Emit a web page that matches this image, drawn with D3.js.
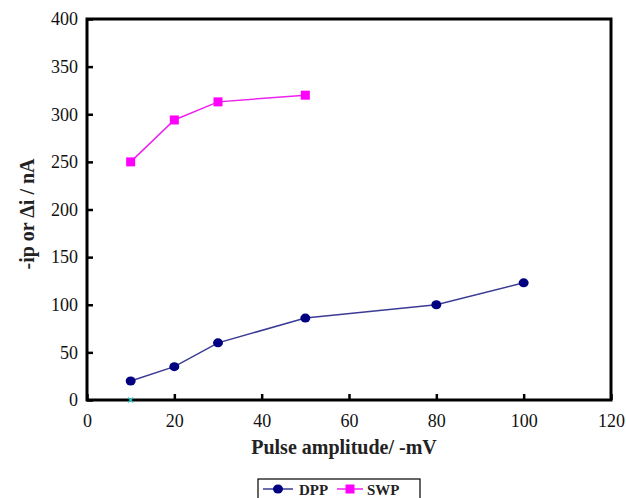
<!DOCTYPE html>
<html>
<head>
<meta charset="utf-8">
<script src="https://cdn.jsdelivr.net/npm/d3@7"></script>
<style>
  body { margin: 0; background: #fff; }
  svg text { font-family: "Times New Roman", "Liberation Serif", Times, "DejaVu Serif", serif; }
</style>
</head>
<body>
<svg id="chart" width="626" height="498"></svg>
<script>
// pulse amplitude (-mV) vs current (nA)
var dppX = [10, 20, 30, 50, 80, 100],
    dppY = [20, 35, 60, 86, 100, 123];
var swpX = [10, 20, 30, 50],
    swpY = [250, 294, 313, 320];
var blankX = [10], blankY = [0];
var xTicks = [0, 20, 40, 60, 80, 100, 120],
    yTicks = [0, 50, 100, 150, 200, 250, 300, 350, 400];

(function() {
  var serif = '"Times New Roman", "Liberation Serif", Times, "DejaVu Serif", serif';
  var svg = d3.select("#chart");
  var left = 87, right = 611, top = 19, bottom = 400;

  var x = d3.scaleLinear().domain([0, 120]).range([left, right]),
      y = d3.scaleLinear().domain([0, 400]).range([bottom, top]);

  // ticks pointing inwards
  var xAxis = d3.axisBottom(x).tickValues(xTicks).tickSizeInner(-6).tickSizeOuter(0).tickPadding(14);
  var yAxis = d3.axisLeft(y).tickValues(yTicks).tickSizeInner(-6).tickSizeOuter(0).tickPadding(9);

  var gx = svg.append("g").attr("transform", "translate(0," + bottom + ")").call(xAxis);
  var gy = svg.append("g").attr("transform", "translate(" + left + ",0)").call(yAxis);
  [gx, gy].forEach(function(g) {
    g.attr("font-family", serif);
    g.select(".domain").remove();
    g.selectAll(".tick line").attr("stroke", "#000").attr("stroke-width", 2.5);
    g.selectAll(".tick text").attr("font-size", 18).attr("fill", "#111");
  });

  svg.append("rect")
    .attr("x", left).attr("y", top)
    .attr("width", right - left).attr("height", bottom - top)
    .attr("fill", "none").attr("stroke", "#000").attr("stroke-width", 3);

  var line = d3.line().x(function(d) { return x(d[0]); }).y(function(d) { return y(d[1]); });
  var dpp = d3.zip(dppX, dppY), swp = d3.zip(swpX, swpY);

  svg.append("path").datum(dpp).attr("d", line)
    .attr("fill", "none").attr("stroke", "#3b3b96").attr("stroke-width", 1.5);
  svg.append("path").datum(swp).attr("d", line)
    .attr("fill", "none").attr("stroke", "#ee22ee").attr("stroke-width", 1.5);

  svg.selectAll(".dpp").data(dpp).enter().append("ellipse")
    .attr("cx", function(d) { return x(d[0]); })
    .attr("cy", function(d) { return y(d[1]); })
    .attr("rx", 5).attr("ry", 4.5).attr("fill", "#000080");

  svg.selectAll(".swp").data(swp).enter().append("rect")
    .attr("x", function(d) { return x(d[0]) - 4.5; })
    .attr("y", function(d) { return y(d[1]) - 4.5; })
    .attr("width", 9).attr("height", 9).attr("fill", "#ff00ff");

  // small cyan cross on the axis
  d3.zip(blankX, blankY).forEach(function(d) {
    var cx = x(d[0]), cy = y(d[1]);
    svg.append("path")
      .attr("d", "M" + (cx - 2.5) + "," + (cy - 2.5) + "L" + (cx + 2.5) + "," + (cy + 2.5) +
                 "M" + (cx - 2.5) + "," + (cy + 2.5) + "L" + (cx + 2.5) + "," + (cy - 2.5))
      .attr("stroke", "#22cccc").attr("stroke-width", 1.2);
  });

  svg.append("text")
    .attr("x", 344).attr("y", 454)
    .attr("text-anchor", "middle").attr("font-size", 20).attr("font-weight", "bold")
    .attr("font-family", serif).attr("fill", "#222")
    .text("Pulse amplitude/ -mV");

  svg.append("text")
    .attr("transform", "translate(34,214) rotate(-90)")
    .attr("text-anchor", "middle").attr("font-size", 20).attr("font-weight", "bold")
    .attr("font-family", serif).attr("fill", "#222")
    .text("-ip or \u0394i / nA");

  // legend
  var lg = svg.append("g").attr("font-family", serif);
  lg.append("rect").attr("x", 258).attr("y", 479).attr("width", 162).attr("height", 30)
    .attr("fill", "#fff").attr("stroke", "#000").attr("stroke-width", 1.2);
  lg.append("line").attr("x1", 263).attr("x2", 293).attr("y1", 489).attr("y2", 489)
    .attr("stroke", "#3b3b96").attr("stroke-width", 1.5);
  lg.append("ellipse").attr("cx", 278).attr("cy", 489).attr("rx", 5).attr("ry", 4.5).attr("fill", "#000080");
  lg.append("text").attr("x", 299).attr("y", 495).attr("font-size", 15).attr("font-weight", "bold")
    .attr("fill", "#222").text("DPP");
  lg.append("line").attr("x1", 337).attr("x2", 363).attr("y1", 489).attr("y2", 489)
    .attr("stroke", "#ee22ee").attr("stroke-width", 1.5);
  lg.append("rect").attr("x", 345.5).attr("y", 484.5).attr("width", 9).attr("height", 9).attr("fill", "#ff00ff");
  lg.append("text").attr("x", 367).attr("y", 495).attr("font-size", 15).attr("font-weight", "bold")
    .attr("fill", "#222").text("SWP");
})();
</script>
</body>
</html>
